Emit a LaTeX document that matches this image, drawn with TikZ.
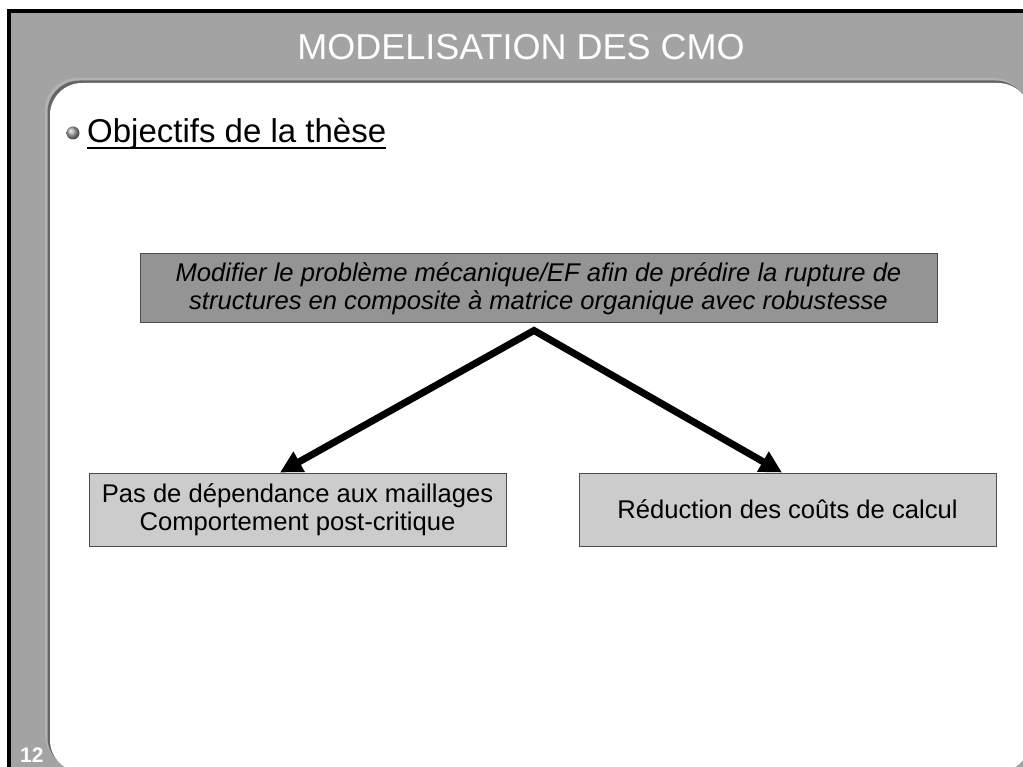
\documentclass[tikz,border=0pt]{standalone}
\usepackage{fontspec}
\setmainfont{Liberation Sans}
\usetikzlibrary{arrows.meta,calc}
\definecolor{FrameClr}{gray}{0.64}
\definecolor{MainBoxClr}{gray}{0.58}
\definecolor{SubBoxClr}{gray}{0.80}
\definecolor{EdgeClr}{gray}{0.30}

\tikzset{
  mainbox/.style={draw=EdgeClr,line width=1pt,fill=MainBoxClr,
    minimum width=797pt,minimum height=69pt,inner sep=0pt,align=center,
    font=\fontsize{25.6}{27.5}\selectfont\itshape},
  subbox/.style={draw=EdgeClr,line width=1pt,fill=SubBoxClr,
    minimum width=417pt,minimum height=73pt,inner sep=0pt,align=center,
    font=\fontsize{25.6}{27.5}\selectfont},
  link/.style={line width=7pt,line join=miter,
    arrows={Triangle[length=22pt,width=22pt]-Triangle[length=22pt,width=22pt]}}
}

\begin{document}
\begin{tikzpicture}[x=1pt,y=-1pt]
\clip (0,0) rectangle (1023,767);
\fill[white] (0,0) rectangle (1023,767);

% frame and panel
\draw[line width=4pt,fill=FrameClr] (9,11) rectangle (1060,800);
\fill[black!30,rounded corners=32pt] (45,78) rectangle (1025,767);
\fill[black!60,rounded corners=32pt] (47.5,80.5) rectangle (1027.5,769.5);
\fill[white,rounded corners=32pt] (50,83) rectangle (1030,772);

\node[text=white,font=\fontsize{36}{40}\selectfont,anchor=base] (T) at (521,60) {MODELISATION DES CMO};
\node[text=white,font=\fontsize{21}{24}\selectfont\bfseries,anchor=base west,inner sep=0pt] (N) at (20,762) {12};

\shade[ball color=gray!70] (73,133) circle (6.5pt);
\node[anchor=base west,inner sep=0pt,font=\fontsize{33}{38}\selectfont] (Obj) at (87,143) {Objectifs de la thèse};
\draw[line width=2.5pt] ([yshift=-5pt]Obj.base west) -- ([yshift=-5pt]Obj.base east);

\node[mainbox] (B0) at (538.5,288.5) {Modifier le problème mécanique/EF afin de prédire la rupture de\\structures en composite à matrice organique avec robustesse};
\node[subbox] (B1) at (297.5,509.5) {Pas de dépendance aux maillages\\Comportement post-critique};
\node[subbox] (B2) at (787.5,509.5) {Réduction des coûts de calcul};

\coordinate (A) at ([xshift=-4.5pt,yshift=-7pt]B0.south);
\draw[link] ([xshift=-17.5pt]B1.north) -- (A) -- ([xshift=-5.5pt]B2.north);

\end{tikzpicture}
\end{document}
